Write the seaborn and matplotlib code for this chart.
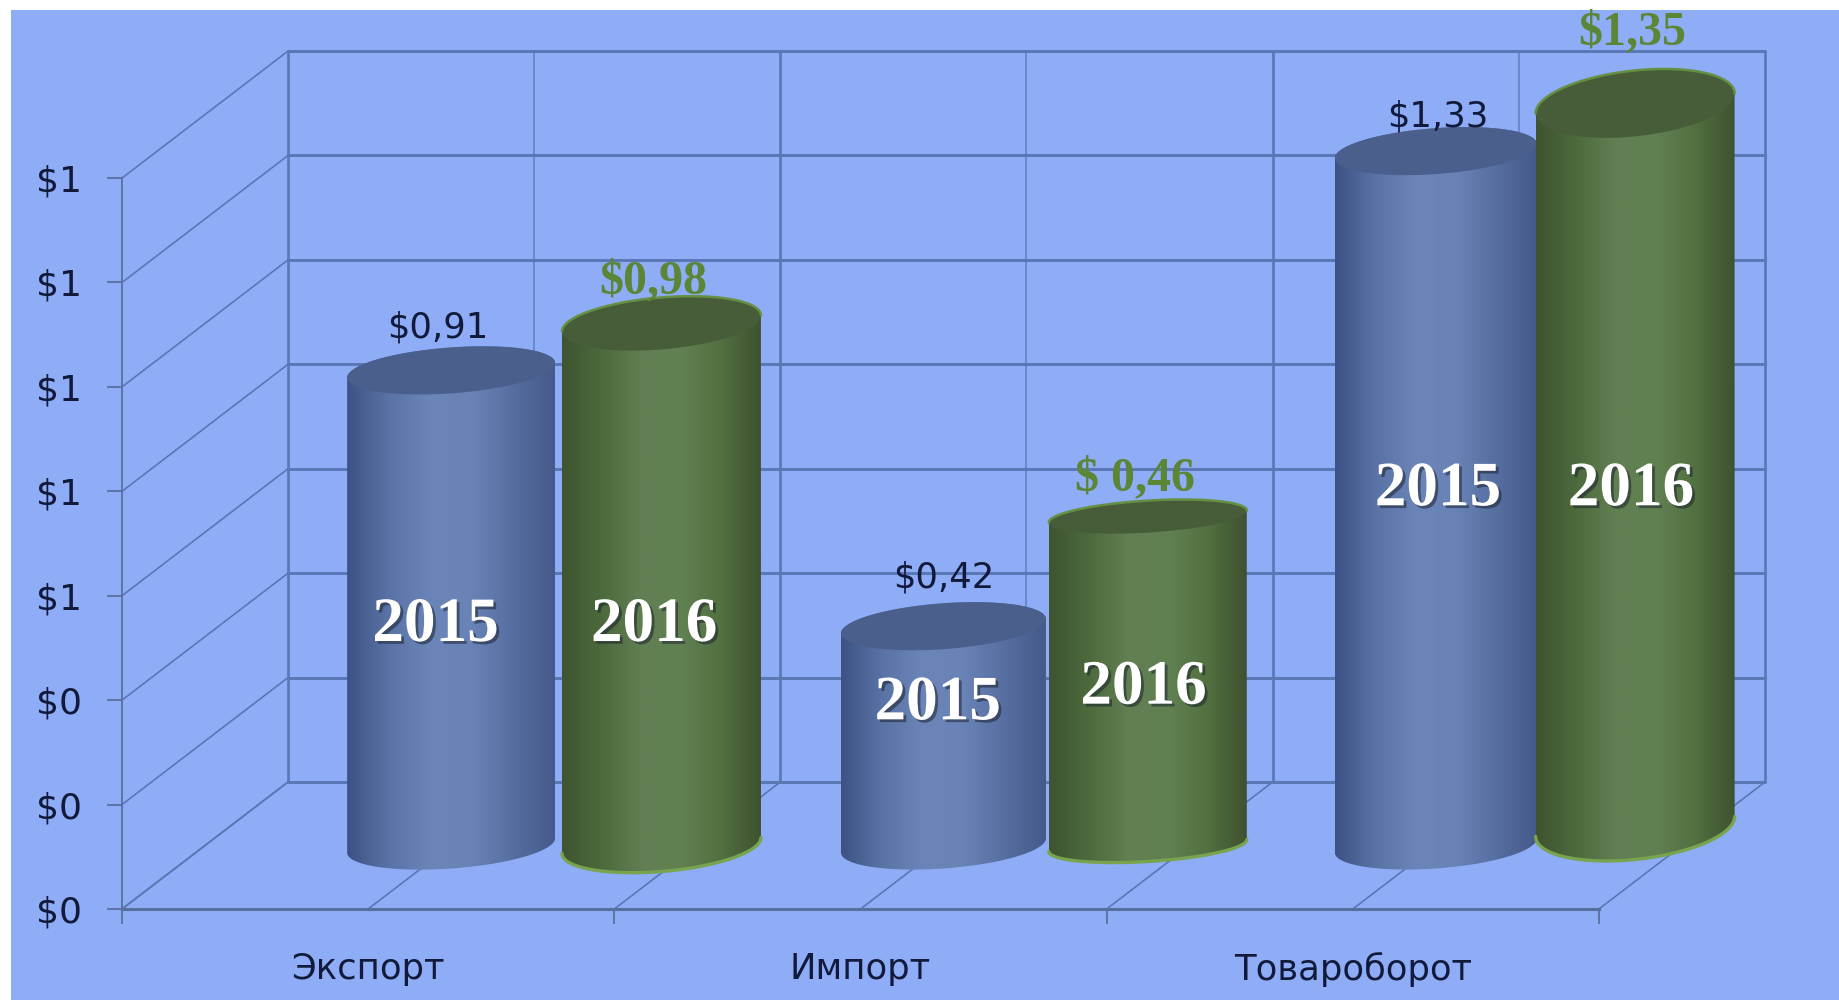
import numpy as np
import pandas as pd
import matplotlib
matplotlib.use('Agg')
import matplotlib.pyplot as plt
import matplotlib.patheffects as pe
from matplotlib.colors import LinearSegmentedColormap
from matplotlib.patches import Polygon, Rectangle
from matplotlib.path import Path
from matplotlib.ticker import FixedLocator
import seaborn as sns

categories = ['Экспорт', 'Импорт', 'Товароборот']
years = ['2015', '2016']
values_2015 = [0.91, 0.42, 1.33]
# the green cylinders were pasted in by hand: drawn taller than the printed numbers
values_2016 = [1.00, 0.63, 1.385]
labels_2015 = ['$0,91', '$0,42', '$1,33']
labels_2016 = ['$0,98', '$ 0,46', '$1,35']
tick_values = [0, 0.2, 0.4, 0.6, 0.8, 1.0, 1.2, 1.4]
tick_labels = ['$0', '$0', '$0', '$1', '$1', '$1', '$1', '$1']

BG = '#8eadf6'
GRID = '#5a76b4'
TEXT = '#121a3c'
PX_X = 492.33   # pixels per category
PX_Y = 522.1    # pixels per unit of value
DX = 166 / PX_X  # depth of the box, data units
DY = 127 / PX_Y

sns.set_theme(style='white')
plt.rcParams['font.family'] = ['DejaVu Sans']

fig = plt.figure(figsize=(18.39, 10), dpi=100, facecolor='white')
fig.patches.append(Rectangle((11 / 1839, 0), 1 - 11 / 1839, 0.99, transform=fig.transFigure,
                             facecolor=BG, edgecolor='none', zorder=-10))
ax = fig.add_axes([122 / 1839, 91 / 1000, (1839 - 122) / 1839, 909 / 1000])
ax.patch.set_alpha(0)

df = pd.DataFrame({
    'category': categories * 2,
    'year': [years[0]] * 3 + [years[1]] * 3,
    'value': values_2015 + values_2016,
})
sns.barplot(data=df, x='category', y='value', hue='year', palette=['#5f78ab', '#5a7a4c'],
            width=0.83, saturation=1, legend=False, ax=ax, zorder=3)

xlim = (-0.5, (1839 - 122) / PX_X - 0.5)
ylim = (0, 909 / PX_Y)
ax.set_xlim(xlim)
ax.set_ylim(ylim)
ax.set_xlabel('')
ax.set_ylabel('')

# box: walls and floor
for v in tick_values:
    ax.plot([-0.5 + DX, 2.5 + DX], [v + DY, v + DY], color=GRID, lw=2.1, zorder=1)
    ax.plot([-0.5, -0.5 + DX], [v, v + DY], color=GRID, lw=1.2, zorder=1)
for i, x in enumerate(np.arange(-0.5, 2.6, 0.5)):
    heavy = i % 2 == 0
    ax.plot([x + DX, x + DX], [DY, 1.4 + DY], color=GRID, lw=1.9 if heavy else 1.2,
            alpha=1 if heavy else 0.8, zorder=1)
    ax.plot([x, x + DX], [0, DY], color=GRID, lw=1.2, zorder=1)

blue_cmap = LinearSegmentedColormap.from_list('blue_cyl', ['#3c5284', '#5a73a6', '#6c85b9', '#6a83b6', '#566ea0', '#455a8a'])
green_cmap = LinearSegmentedColormap.from_list('green_cyl', ['#3f5431', '#4c6a3c', '#617f52', '#628152', '#527040', '#3e5230'])

# px styling per bar: cap half height, tilt, lift off the floor, sideways nudge, width
cap_b = [23, 23, 23, 26, 16, 33]
tilt = [0.07, 0.07, 0.07, 0.08, 0.06, 0.10]
lift = [0, 0, 0, 0, 0, 19]
nudge = [0, 0, 0, 6, 0, -5]
bar_w = [208, 205, 202, 199, 198, 199]
SHIFT_X = 0.5 * DX + 0.83 / 4
SHIFT_Y = 0.5 * DY


def ring(cx, cy, a, b, s, t0=0, t1=2 * np.pi):
    t = np.linspace(t0, t1, 80)
    return np.column_stack([cx + a * np.cos(t), cy + b * np.sin(t) + s * PX_X / PX_Y * a * np.cos(t)])


bars = list(ax.patches)
for i, bar in enumerate(bars):
    green = i >= 3
    cx = bar.get_x() + bar.get_width() / 2 + SHIFT_X + nudge[i] / PX_X
    a = bar_w[i] / 2 / PX_X
    b = cap_b[i] / PX_Y
    s = tilt[i]
    y0 = SHIFT_Y + lift[i] / PX_Y
    y1 = y0 + bar.get_height()
    # the seaborn bar stays as the body of the cylinder, kept inside the outline
    inset = 12 / PX_Y
    bar.set_x(cx - a + 2 / PX_X)
    bar.set_width(2 * a - 4 / PX_X)
    bar.set_y(y0 + inset)
    bar.set_height(bar.get_height() - 2 * inset)
    bar.set_edgecolor('none')
    bar.set_linewidth(0)
    z = 3 + i * 0.1
    bar.set_zorder(z)

    lower = ring(cx, y0, a, b, s, np.pi, 2 * np.pi)
    upper = ring(cx, y1, a, b, s, 0, np.pi)
    outline = np.vstack([lower, upper, lower[:1]])
    im = ax.imshow(np.linspace(0, 1, 256)[None, :], cmap=green_cmap if green else blue_cmap,
                   extent=[cx - a, cx + a, y0 - 2 * b, y1 + 2 * b], aspect='auto', zorder=z + 0.01)
    im.set_clip_path(Path(outline), ax.transData)
    ax.add_patch(Polygon(ring(cx, y1, a, b, s), closed=True,
                         facecolor='#475c38' if green else '#4b5f8d', edgecolor='none', zorder=z + 0.02))
    if green:
        ax.plot(*upper.T, color='#659043', lw=1.8, zorder=z + 0.03)
        ax.plot(*lower.T, color='#78a34f', lw=2.4, zorder=z + 0.03)

ax.set_xlim(xlim)
ax.set_ylim(ylim)

# numbers over the cylinders
label_x_2015 = [0.141, 1.170, 2.173]
label_y_2015 = [1.114, 0.635, 1.518]
label_x_2016 = [0.579, 1.558, 2.567]
label_y_2016 = [1.202, 0.825, 1.679]
for x, y, t in zip(label_x_2015, label_y_2015, labels_2015):
    ax.text(x, y, t, ha='center', va='center', fontsize=25.5, color=TEXT, zorder=6)
for x, y, t in zip(label_x_2016, label_y_2016, labels_2016):
    ax.text(x, y, t, ha='center', va='center', fontsize=34.5, fontweight='bold', color='#5b8636',
            family='Liberation Serif', zorder=6)

# years written on the cylinders
year_x_2015 = [0.137, 1.157, 2.173]
year_y_2015 = [0.542, 0.392, 0.802]
year_x_2016 = [0.581, 1.575, 2.565]
year_y_2016 = [0.542, 0.422, 0.802]
shadow = [pe.withSimplePatchShadow(offset=(2, -2), shadow_rgbFace='#1c2430', alpha=0.55)]
for xs, ys, year in [(year_x_2015, year_y_2015, years[0]), (year_x_2016, year_y_2016, years[1])]:
    for x, y in zip(xs, ys):
        ax.text(x, y, year, ha='center', va='center', fontsize=45.5, fontweight='bold', color='white',
                family='Liberation Serif', path_effects=shadow, zorder=6)

# axes
sns.despine(ax=ax)
ax.spines['left'].set_bounds(0, 1.4)
ax.spines['bottom'].set_bounds(-0.5, 2.5)
ax.spines['left'].set_color('#5b6f9f')
ax.spines['left'].set_linewidth(1.3)
ax.spines['bottom'].set_color('#566f9f')
ax.spines['bottom'].set_linewidth(2.2)
ax.set_yticks(tick_values)
ax.set_yticklabels(tick_labels, fontsize=26, color=TEXT)
ax.set_xticks(range(3))
ax.set_xticklabels(categories, fontsize=25.5, color=TEXT)
ax.xaxis.set_minor_locator(FixedLocator([-0.5, 0.5, 1.5, 2.5]))
ax.tick_params(axis='x', which='major', length=0, pad=31)
ax.tick_params(axis='x', which='minor', bottom=True, length=11, width=1.3, color='#5b6f9f')
ax.tick_params(axis='y', which='major', left=True, length=11, width=1.3, color='#5b6f9f', pad=18)

fig.savefig('out.png', dpi=100, facecolor='white')
